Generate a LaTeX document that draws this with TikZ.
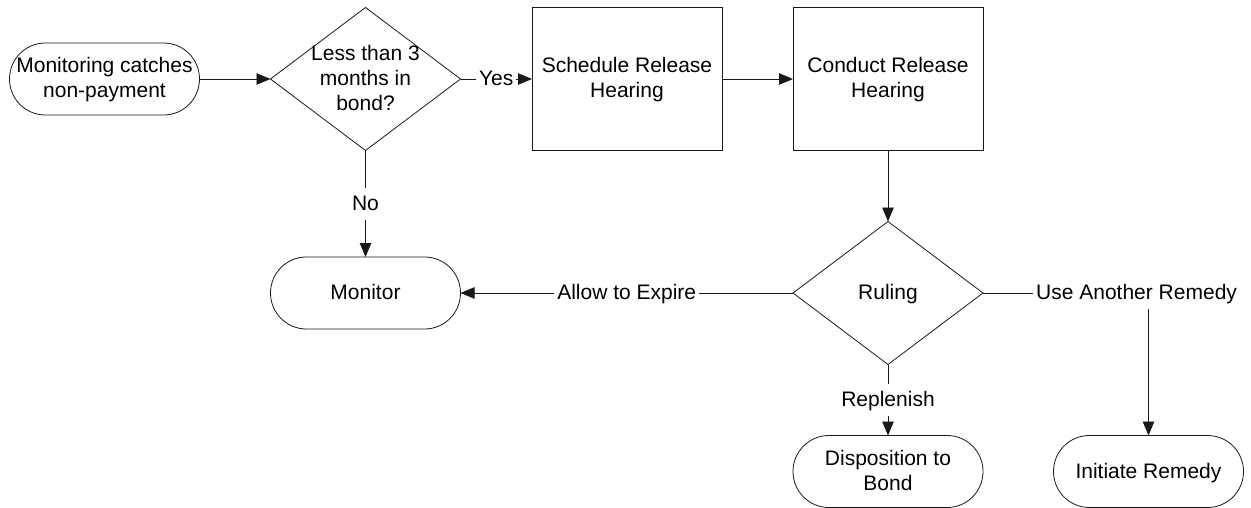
\documentclass[tikz,border=0pt]{standalone}
\usepackage{fontspec}
\setmainfont{Liberation Sans}
\usetikzlibrary{shapes.geometric,arrows.meta}
\newcommand{\vs}{\rule[-6pt]{0pt}{25pt}}
\tikzset{
  base/.style={draw=black!90, line width=0.8pt, inner sep=0pt, outer sep=0pt,
    font=\fontsize{21pt}{25pt}\selectfont, align=center},
  term/.style={base, rectangle, rounded corners=35.9pt, minimum width=190pt, minimum height=72pt},
  procbox/.style={base, rectangle, minimum width=190pt, minimum height=143pt},
  decis/.style={base, diamond, minimum width=190pt, minimum height=143pt},
  dtext/.style={font=\fontsize{21pt}{25pt}\selectfont, align=center, inner sep=0pt},
  conn/.style={draw=black!90, line width=0.8pt, -{Triangle[length=14pt,width=11.5pt]}},
  lbl/.style={fill=white, font=\fontsize{21pt}{25pt}\selectfont, inner xsep=3pt, inner ysep=3.5pt}
}
\begin{document}
\begin{tikzpicture}[x=1pt,y=-1pt]
\useasboundingbox (0,0) rectangle (1251,508);
\node[term] (start) at (104.5,79) {\vs Monitoring catches\\\vs non-payment};
\node[decis] (d1) at (365.5,79) {};
\node[dtext] (d1t) at (d1.center) {\vs Less than 3\\\vs months in\\\vs bond?};
\node[procbox] (sched) at (627,79) {\vs Schedule Release\\\vs Hearing};
\node[procbox] (cond) at (888,79) {\vs Conduct Release\\\vs Hearing};
\node[decis] (ruling) at (888,293) {};
\node[dtext] (rt) at (ruling.center) {\vs Ruling};
\node[term] (monitor) at (365.5,293) {\vs Monitor};
\node[term] (disp) at (888,471.5) {\vs Disposition to\\\vs Bond};
\node[term] (init) at (1148.5,471.5) {\vs Initiate Remedy};

\draw[conn] (start.east) -- (d1.west);
\draw[conn] (d1.east) -- node[lbl] (yes) {\vs Yes} (sched.west);
\draw[conn] (sched.east) -- (cond.west);
\draw[conn] (cond.south) -- (ruling.north);
\draw[conn] (d1.south) -- node[lbl] (no) {\vs No} (monitor.north);
\draw[conn] (ruling.west) -- node[lbl] (exp) {\vs Allow to Expire} (monitor.east);
\draw[conn] (ruling.south) -- node[lbl] (rep) {\vs Replenish} (disp.north);
\draw[conn] (ruling.east) -| node[lbl, pos=0.464] (rem) {\vs Use Another Remedy} (init.north);
\end{tikzpicture}
\end{document}
